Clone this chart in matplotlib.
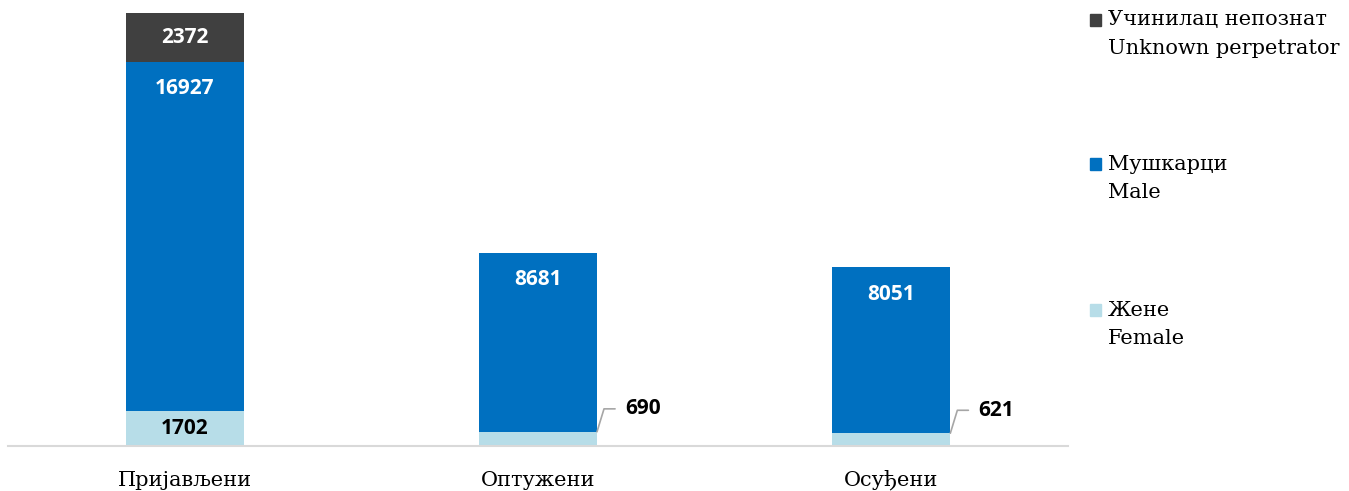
import matplotlib.pyplot as plt
from matplotlib.patches import Rectangle

categories = ["Пријављени", "Оптужени", "Осуђени"]
female = [1702, 690, 621]
male = [16927, 8681, 8051]
unknown = [2372, 0, 0]

legend_labels = [
    ("Учинилац непознат", "Unknown perpetrator"),
    ("Мушкарци", "Male"),
    ("Жене", "Female"),
]

c_female = "#b7dde8"
c_male = "#0070c0"
c_unknown = "#404040"

serif = "DejaVu Serif"
sans = ["Open Sans", "DejaVu Sans"]
val_fs = 15

fig = plt.figure(figsize=(13.49, 4.91), dpi=100)
ax = fig.add_axes([8 / 1349, 1 - 446 / 491, 1060 / 1349, 446 / 491])

x = list(range(len(categories)))
w = 0.334
ax.bar(x, female, w, color=c_female)
ax.bar(x, male, w, bottom=female, color=c_male)
bottom2 = [f + m for f, m in zip(female, male)]
ax.bar(x, unknown, w, bottom=bottom2, color=c_unknown)

ax.set_xlim(-0.5, 2.5)
ax.set_ylim(0, 21630)

for i in x:
    if female[i] > 1000:
        ax.text(i, female[i] / 2, str(female[i]), ha="center", va="center",
                fontsize=val_fs, fontweight="bold", family=sans, color="black")
    else:
        ax.annotate(str(female[i]), xy=(i + w / 2, female[i]),
                    xytext=(20, 16.5), textcoords="offset points",
                    ha="left", va="center", fontsize=val_fs, fontweight="bold",
                    family=sans, color="black",
                    arrowprops=dict(arrowstyle="-", color="#a6a6a6", lw=1.2,
                                    connectionstyle="angle,angleA=0,angleB=73,rad=0",
                                    relpos=(0, 0.5), shrinkA=5, shrinkB=0))
    # male label sits just inside the top of its segment
    ax.annotate(str(male[i]), xy=(i, bottom2[i]), xytext=(0, -19.5),
                textcoords="offset points", ha="center", va="center",
                fontsize=val_fs, fontweight="bold", family=sans, color="white")
    if unknown[i]:
        ax.text(i, bottom2[i] + unknown[i] / 2, str(unknown[i]), ha="center",
                va="center", fontsize=val_fs, fontweight="bold", family=sans,
                color="white")

for s in ["top", "right", "left"]:
    ax.spines[s].set_visible(False)
ax.spines["bottom"].set_color("#d9d9d9")
ax.spines["bottom"].set_linewidth(1.5)
ax.set_yticks([])
ax.set_xticks(x)
ax.set_xticklabels(categories, family=serif, fontsize=15, va="baseline")
ax.tick_params(axis="x", length=0, pad=28.5)

colors = [c_unknown, c_male, c_female]
rows_y = [20, 164, 310]
for (l1, l2), col, ry in zip(legend_labels, colors, rows_y):
    fig.add_artist(Rectangle((1090 / 1349, 1 - (ry + 6) / 491), 11 / 1349, 12 / 491,
                             transform=fig.transFigure, color=col))
    fig.text(1108 / 1349, 1 - ry / 491, l1, ha="left", va="center",
             family=serif, fontsize=15)
    fig.text(1108 / 1349, 1 - (ry + 28) / 491, l2, ha="left", va="center",
             family=serif, fontsize=15)

fig.savefig("out.png", dpi=100)
